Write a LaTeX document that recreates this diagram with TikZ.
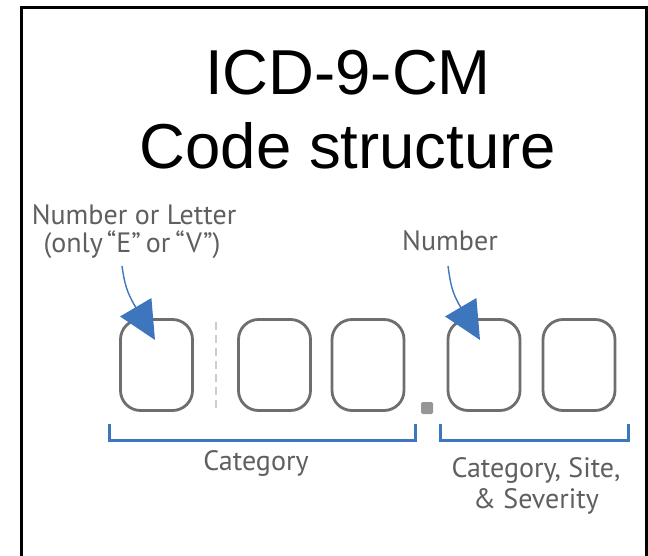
\documentclass[tikz,border=0pt]{standalone}
\usepackage{fontspec}
\setmainfont{Liberation Sans}
\newfontfamily\labfont{PT Sans}
\usetikzlibrary{arrows.meta}
\definecolor{icdblue}{RGB}{62,118,190}
\definecolor{boxgray}{RGB}{110,110,110}
\definecolor{txtgray}{RGB}{95,95,95}
\definecolor{dashgray}{RGB}{205,205,205}
\definecolor{dotgray}{RGB}{150,150,150}
\tikzset{
  digit/.style={draw=boxgray, line width=2.8pt, rounded corners=20pt, minimum width=72pt, minimum height=91pt, inner sep=0pt},
  lab/.style={text=txtgray, font=\labfont\fontsize{28}{32}\selectfont, align=center, inner sep=0pt},
  title/.style={font=\fontsize{63.5}{72}\selectfont, inner sep=0pt},
  pointer/.style={draw=icdblue, line width=1.4pt, -{Triangle[length=38pt,width=36pt]}},
  bracket/.style={draw=icdblue, line width=3pt}
}
\begin{document}
\begin{tikzpicture}[x=1pt,y=-1pt]
\useasboundingbox (0,0) rectangle (648,556);
\draw[line width=3pt] (21,570) -- (21,8) -- (646,8) -- (646,570);
\node[title] (t1) at (348,73) {ICD-9-CM};
\node[title] (t2) at (348,146) {Code structure};
\node[digit] (b1) at (156.5,365) {};
\node[digit] (b2) at (274.5,365) {};
\node[digit] (b3) at (368,365) {};
\node[digit] (b4) at (484,365) {};
\node[digit] (b5) at (579,365) {};
\draw[dashgray, line width=2.5pt, dash pattern=on 8pt off 5pt] (216,322) -- (216,408);
\node[fill=dotgray, minimum size=12pt, inner sep=0pt, rounded corners=1.5pt] (dot) at (427,408) {};
\node[lab] (l1) at (134,215) {Number or Letter};
\node[lab] (l2) at (132,245) {(only\hspace{4pt}“E”\hspace{5pt}or\hspace{5pt}“V”)};
\node[lab] (l3) at (450,241) {Number};
\coordinate (s1) at (122,266);
\coordinate (m1) at (135,306);
\coordinate (e1) at (155,340);
\coordinate (s2) at (448,266);
\coordinate (m2) at (460,306);
\coordinate (e2) at (480,340);
\draw[pointer] (s1) to[out=-82,in=121] (m1) -- (e1);
\draw[pointer] (s2) to[out=-82,in=121] (m2) -- (e2);
\draw[bracket] (109,424) -- (109,440) -- (415,440) -- (415,424);
\draw[bracket] (440,424) -- (440,440) -- (628,440) -- (628,424);
\node[lab] (c1) at (256,463) {Category};
\node[lab] (c2) at (536,470) {Category, Site,};
\node[lab] (c3) at (536,501) {\& Severity};
\end{tikzpicture}
\end{document}
